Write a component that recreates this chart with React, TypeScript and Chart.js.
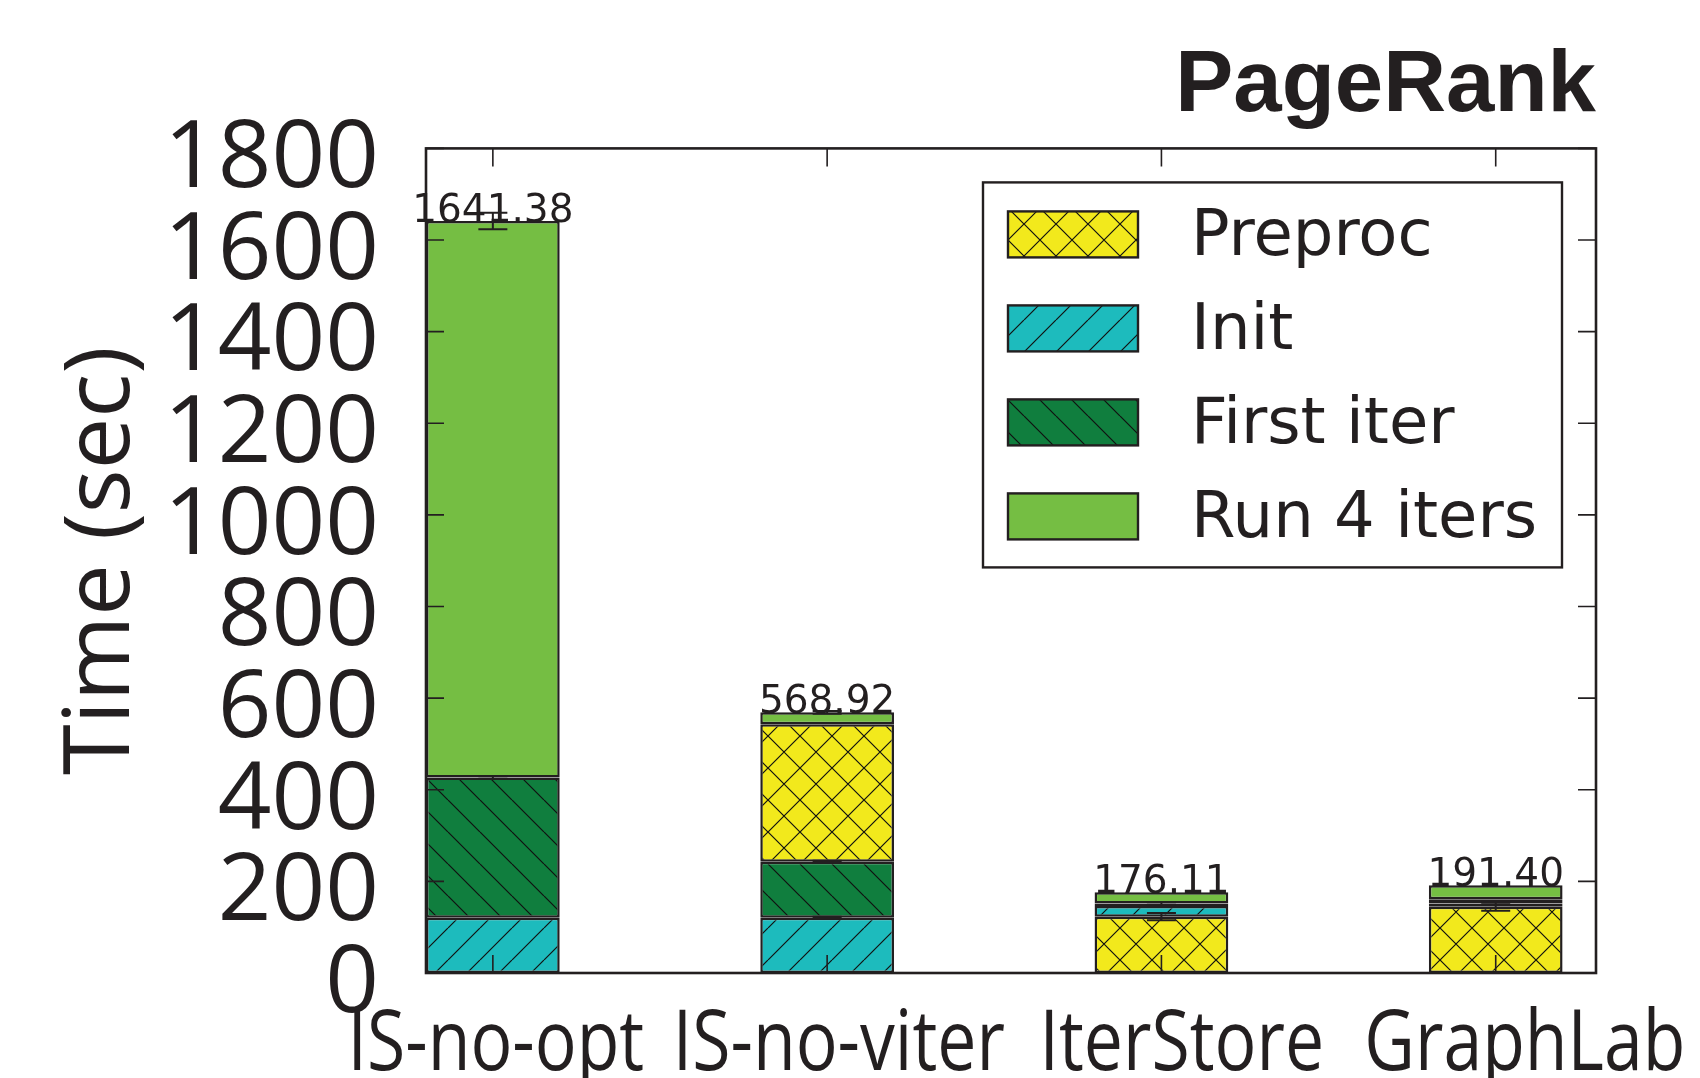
import React, { useEffect, useRef } from 'react';
import { Chart, registerables } from 'chart.js';

Chart.register(...registerables);

// ---- data ----
const categories = ['IS-no-opt', 'IS-no-viter', 'IterStore', 'GraphLab'];
const preproc = [0, 300.1, 123.0, 144.8];
const init = [120.8, 120.8, 23.3, 7.0];
const firstIter = [305.8, 122.3, 5.5, 9.0];
const run4Iters = [1214.78, 25.72, 24.31, 30.6];
const totals = [1641.38, 568.92, 176.11, 191.4];
// in IS-no-viter the Preproc segment is stacked above First iter
const preprocOnTop = [false, true, false, false];
// error bars (± seconds, at the top of each segment)
const preprocErr = [0, 0, 8, 8.8];
const initErr = [0, 2, 0, 0];
const firstIterErr = [3, 2, 3, 0];
const runErr = [18, 3, 0, 0];
const yMin = 0;
const yMax = 1800;
const yStep = 200;

const TEXT = '#231f20';
const EDGE = '#231f20';
const C_PRE = '#f2e91c';
const C_INIT = '#1dbbbd';
const C_FIRST = '#107e3e';
const C_RUN = '#75be43';

function makePattern(bg: string, kind: 'x' | '/' | '\\' | 'none') {
  const s = 32;
  const c = document.createElement('canvas');
  c.width = s;
  c.height = s;
  const g = c.getContext('2d')!;
  g.fillStyle = bg;
  g.fillRect(0, 0, s, s);
  g.strokeStyle = '#111';
  g.lineWidth = 1.2;
  g.beginPath();
  if (kind === '/' || kind === 'x') {
    for (const k of [-s, 0, s]) {
      g.moveTo(k, s);
      g.lineTo(s + k, 0);
    }
  }
  if (kind === '\\' || kind === 'x') {
    for (const k of [-s, 0, s]) {
      g.moveTo(k, 0);
      g.lineTo(s + k, s);
    }
  }
  g.stroke();
  return g.createPattern(c, 'repeat')!;
}

const pts = (arr: number[]) => arr.map((v, i) => ({ x: i, y: v }));

const framePlugin = {
  id: 'frameTicks',
  afterDatasetsDraw(chart: any) {
    const { ctx, chartArea: a, scales } = chart;
    const xs = scales.x;
    const ys = scales.y;
    ctx.save();
    ctx.strokeStyle = EDGE;
    ctx.lineWidth = 1.6;
    ctx.beginPath();
    const tl = 18;
    for (let v = yMin; v <= yMax; v += yStep) {
      const py = ys.getPixelForValue(v);
      ctx.moveTo(a.left, py);
      ctx.lineTo(a.left + tl, py);
      ctx.moveTo(a.right, py);
      ctx.lineTo(a.right - tl, py);
    }
    categories.forEach((_, i) => {
      const px = xs.getPixelForValue(i);
      ctx.moveTo(px, a.top);
      ctx.lineTo(px, a.top + tl);
      ctx.moveTo(px, a.bottom);
      ctx.lineTo(px, a.bottom - tl);
    });
    ctx.stroke();
    ctx.lineWidth = 2.6;
    ctx.strokeRect(a.left, a.top, a.right - a.left, a.bottom - a.top);

    // error bars
    ctx.lineWidth = 2;
    chart.data.datasets.forEach((ds: any, di: number) => {
      const errs: number[] | undefined = ds.errors;
      if (!errs) return;
      const meta = chart.getDatasetMeta(di);
      meta.data.forEach((el: any, i: number) => {
        const e = errs[i];
        const v = ds.data[i].y;
        if (!e || !v) return;
        const d = Math.abs(ys.getPixelForValue(e) - ys.getPixelForValue(0));
        const cx = el.x;
        const cy = el.y;
        ctx.beginPath();
        ctx.moveTo(cx, cy - d);
        ctx.lineTo(cx, cy + d);
        ctx.moveTo(cx - 14.5, cy - d);
        ctx.lineTo(cx + 14.5, cy - d);
        ctx.moveTo(cx - 14.5, cy + d);
        ctx.lineTo(cx + 14.5, cy + d);
        ctx.stroke();
      });
    });

    // total labels
    ctx.fillStyle = TEXT;
    ctx.font = "39px 'DejaVu Sans'";
    ctx.textAlign = 'center';
    ctx.textBaseline = 'alphabetic';
    totals.forEach((t, i) => {
      let top = Infinity;
      let cx = xs.getPixelForValue(i);
      chart.data.datasets.forEach((ds: any, di: number) => {
        const el = chart.getDatasetMeta(di).data[i];
        if (el && ds.data[i].y > 0) {
          top = Math.min(top, el.y);
          cx = el.x;
        }
      });
      ctx.fillText(t.toFixed(2), cx, top + 1);
    });

    // category labels (condensed humanist sans), slightly spread out as in the reference
    ctx.font = "84px 'Open Sans', sans-serif";
    ctx.textAlign = 'center';
    ctx.textBaseline = 'alphabetic';
    categories.forEach((c, i) => {
      const px = xs.getPixelForValue(i) + 3 + i * 8.7;
      ctx.save();
      ctx.translate(px, a.bottom + 97);
      ctx.scale(0.83, 1);
      ctx.fillText(c, 0, 0);
      ctx.restore();
    });
    ctx.restore();
  },
  afterDraw(chart: any) {
    const { ctx, chartArea: a } = chart;
    const bx = a.right - 34;
    const by = a.top + 34;
    const w = 579;
    const h = 385;
    const left = bx - w;
    ctx.save();
    ctx.fillStyle = '#ffffff';
    ctx.fillRect(left, by, w, h);
    ctx.strokeStyle = EDGE;
    ctx.lineWidth = 2.4;
    ctx.strokeRect(left, by, w, h);
    const items = chart.data.datasets.filter((d: any) => !d.hideInLegend);
    ctx.font = "64px 'DejaVu Sans'";
    ctx.textAlign = 'left';
    ctx.textBaseline = 'middle';
    items.forEach((ds: any, k: number) => {
      const cy = by + 52 + k * 94;
      const px = left + 25;
      ctx.fillStyle = ds.backgroundColor;
      ctx.fillRect(px, cy - 23, 130, 46);
      ctx.lineWidth = 2.4;
      ctx.strokeStyle = EDGE;
      ctx.strokeRect(px, cy - 23, 130, 46);
      ctx.fillStyle = TEXT;
      ctx.fillText(ds.label, left + 208, cy + 4);
    });
    ctx.restore();
  },
};

export default function App() {
  const ref = useRef<HTMLCanvasElement | null>(null);
  useEffect(() => {
    const canvas = ref.current!;
    const pPre = makePattern(C_PRE, 'x');
    const pInit = makePattern(C_INIT, '/');
    const pFirst = makePattern(C_FIRST, '\\');
    const base = {
      borderColor: EDGE,
      borderWidth: 2.5,
      borderSkipped: false,
      categoryPercentage: 1,
      barPercentage: 0.4,
    };
    const chart = new Chart(canvas, {
      type: 'bar',
      data: {
        datasets: [
          {
            ...base,
            label: 'Preproc',
            data: pts(preproc.map((v, i) => (preprocOnTop[i] ? 0 : v))),
            errors: preprocErr.map((v, i) => (preprocOnTop[i] ? 0 : v)),
            backgroundColor: pPre,
          },
          {
            ...base,
            label: 'Init',
            data: pts(init),
            errors: initErr,
            backgroundColor: pInit,
          },
          {
            ...base,
            label: 'First iter',
            data: pts(firstIter),
            errors: firstIterErr,
            backgroundColor: pFirst,
          },
          {
            ...base,
            label: 'Preproc',
            hideInLegend: true,
            data: pts(preproc.map((v, i) => (preprocOnTop[i] ? v : 0))),
            errors: preprocErr.map((v, i) => (preprocOnTop[i] ? v : 0)),
            backgroundColor: pPre,
          },
          {
            ...base,
            label: 'Run 4 iters',
            data: pts(run4Iters),
            errors: runErr,
            backgroundColor: C_RUN,
          },
        ] as any,
      },
      options: {
        responsive: false,
        maintainAspectRatio: false,
        animation: false,
        devicePixelRatio: 1,
        layout: { padding: { left: 0, right: 104, top: 0, bottom: 0 } },
        plugins: {
          legend: { display: false },
          tooltip: { enabled: false },
          title: {
            display: true,
            text: 'PageRank',
            align: 'end',
            color: TEXT,
            font: { family: "'Liberation Sans', Arial, sans-serif", size: 87, weight: 'bold' },
            padding: { top: 35, bottom: 9 },
          },
        },
        scales: {
          x: {
            type: 'linear',
            min: -0.2,
            max: 3.3,
            offset: false,
            stacked: true,
            grid: { display: false, drawTicks: false },
            border: { display: false },
            afterBuildTicks: (s: any) => {
              s.ticks = categories.map((_, i) => ({ value: i }));
            },
            afterFit: (s: any) => {
              s.height = 105;
            },
            ticks: { display: false },
          },
          y: {
            type: 'linear',
            min: yMin,
            max: yMax,
            stacked: true,
            grid: { display: false, drawTicks: false },
            border: { display: false },
            afterFit: (s: any) => {
              s.width = 426;
            },
            ticks: {
              stepSize: yStep,
              autoSkip: false,
              padding: 47,
              labelOffset: 12,
              color: TEXT,
              font: { family: "'Open Sans', sans-serif", size: 94 },
              callback: (v: any) => String(v),
            },
            title: {
              display: true,
              text: 'Time (sec)',
              color: TEXT,
              font: { family: "'Open Sans', sans-serif", size: 92 },
              padding: { top: 48, bottom: 0 },
            },
          },
        },
      } as any,
      plugins: [framePlugin],
    });
    return () => chart.destroy();
  }, []);
  return (
    <div style={{ position: 'fixed', left: 0, top: 0, width: 1700, height: 1078, background: '#fff' }}>
      <canvas ref={ref} width={1700} height={1078} />
    </div>
  );
}
